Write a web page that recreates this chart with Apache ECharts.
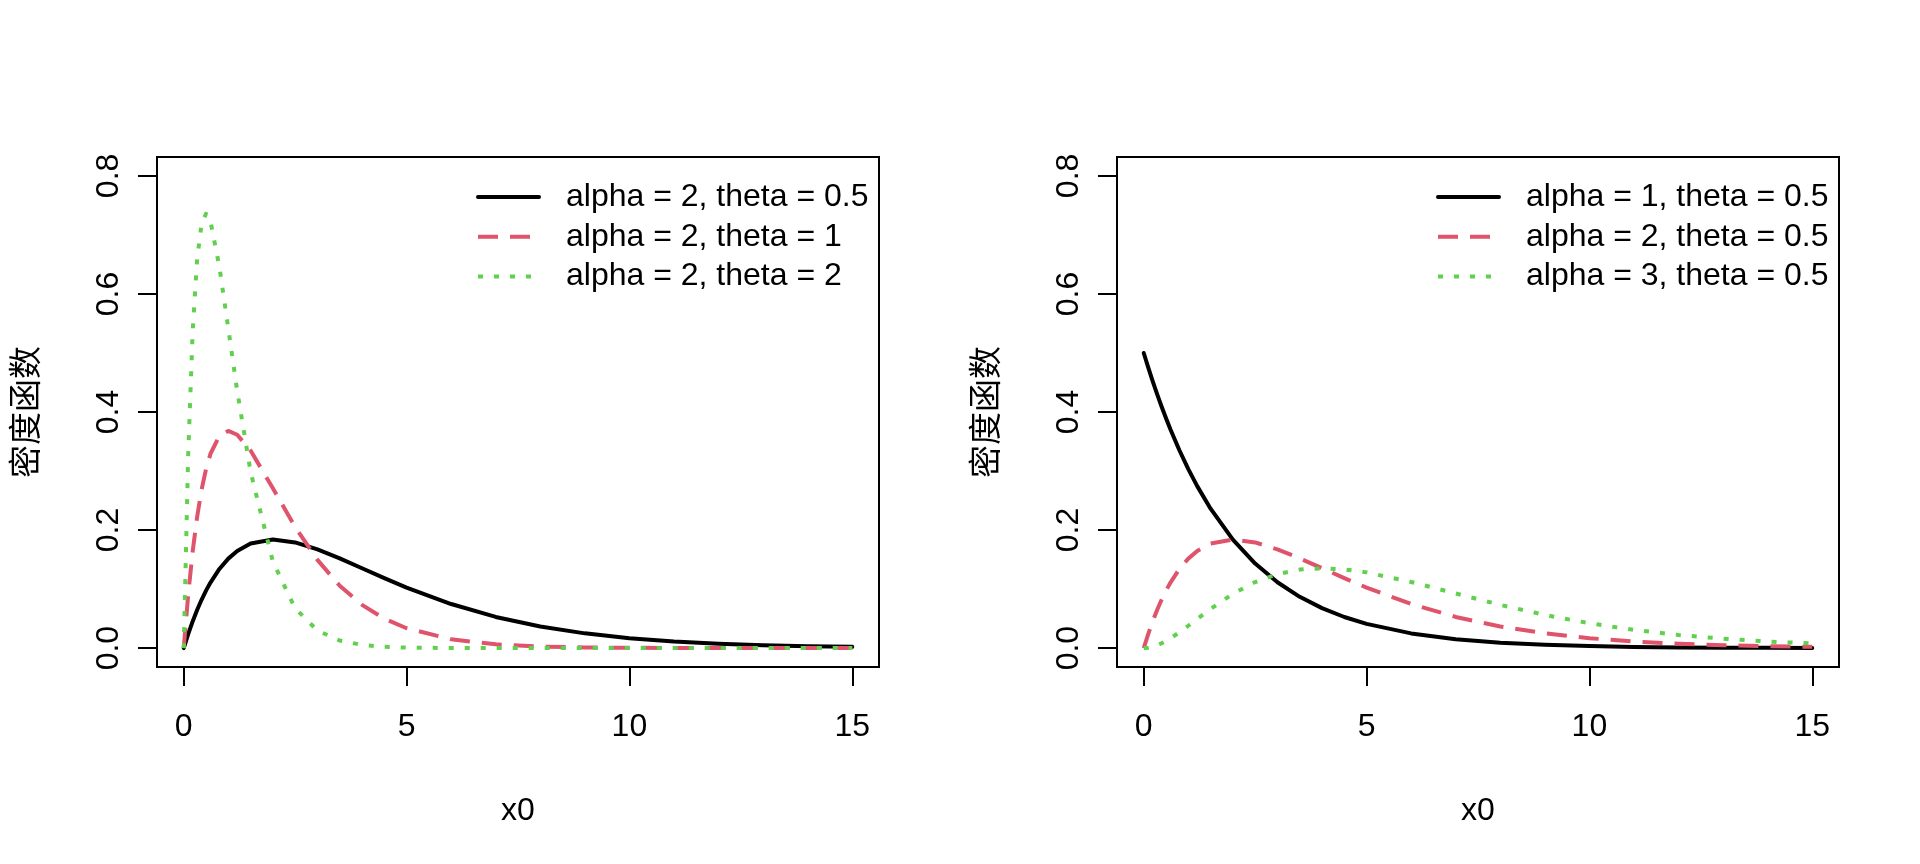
<!DOCTYPE html>
<html>
<head>
<meta charset="utf-8">
<script src="https://cdn.jsdelivr.net/npm/echarts@6/dist/echarts.min.js"></script>
<style>
  html, body { margin: 0; padding: 0; background: #fff; }
  #chart { width: 1920px; height: 864px; }
</style>
</head>
<body>
<div id="chart"></div>
<script>
/* Gamma densities, two panels side by side. */
const xs = [0, 0.1, 0.2, 0.3, 0.4, 0.5, 0.6, 0.8, 1, 1.2, 1.5, 2, 2.5, 3, 3.5, 4, 4.5, 5,
  6, 7, 8, 9, 10, 11, 12, 13, 14, 15];
const xTicks = [0, 5, 10, 15];
const yTicks = [0, 0.2, 0.4, 0.6, 0.8];

// left panel: alpha = 2, theta varies
const leftNames = ["alpha = 2, theta = 0.5", "alpha = 2, theta = 1", "alpha = 2, theta = 2"];
const leftA = [0, 0.0238, 0.0452, 0.0646, 0.0819, 0.0974, 0.1111, 0.1341, 0.1516, 0.1646, 0.1771,
  0.1839, 0.1791, 0.1673, 0.1521, 0.1353, 0.1186, 0.1026, 0.0747, 0.0528, 0.0366, 0.0250, 0.0168,
  0.0112, 0.0074, 0.0049, 0.0032, 0.0021];
const leftB = [0, 0.0905, 0.1637, 0.2222, 0.2681, 0.3033, 0.3293, 0.3595, 0.3679, 0.3614, 0.3347,
  0.2707, 0.2052, 0.1494, 0.1057, 0.0733, 0.0500, 0.0337, 0.0149, 0.0064, 0.0027, 0.0011, 0.0005,
  0.0002, 0.0001, 0, 0, 0];
const leftC = [0, 0.3275, 0.5363, 0.6586, 0.7189, 0.7358, 0.7229, 0.6461, 0.5413, 0.4354, 0.2987,
  0.1465, 0.0674, 0.0297, 0.0128, 0.0054, 0.0022, 0.0009, 0.0001, 0, 0, 0, 0, 0, 0, 0, 0, 0];

// right panel: theta = 0.5, alpha varies
const rightNames = ["alpha = 1, theta = 0.5", "alpha = 2, theta = 0.5 ", "alpha = 3, theta = 0.5"];
const rightA = [0.5, 0.4756, 0.4524, 0.4304, 0.4094, 0.3894, 0.3704, 0.3352, 0.3033, 0.2744, 0.2362,
  0.1839, 0.1433, 0.1116, 0.0869, 0.0677, 0.0527, 0.0410, 0.0249, 0.0151, 0.0092, 0.0056, 0.0034,
  0.0020, 0.0012, 0.0008, 0.0005, 0.0003];
const rightB = [0, 0.0238, 0.0452, 0.0646, 0.0819, 0.0974, 0.1111, 0.1341, 0.1516, 0.1646, 0.1771,
  0.1839, 0.1791, 0.1673, 0.1521, 0.1353, 0.1186, 0.1026, 0.0747, 0.0528, 0.0366, 0.0250, 0.0168,
  0.0112, 0.0074, 0.0049, 0.0032, 0.0021];
const rightC = [0, 0.0006, 0.0023, 0.0048, 0.0082, 0.0122, 0.0167, 0.0268, 0.0379, 0.0494, 0.0664,
  0.0920, 0.1119, 0.1255, 0.1330, 0.1353, 0.1334, 0.1283, 0.1120, 0.0925, 0.0733, 0.0562, 0.0421,
  0.0309, 0.0223, 0.0159, 0.0112, 0.0078];

const FONT = "'Liberation Sans', Arial, sans-serif";
const styles = [
  { color: "#000000", width: 4, type: "solid", cap: "round" },
  { color: "#DF536B", width: 4, type: [20, 12], cap: "butt" },
  { color: "#61D04F", width: 4, type: [5, 11], cap: "butt" }
];

function pairs(vals) { return xs.map(function (x, i) { return [x, vals[i]]; }); }

function grid(left) {
  return { left: left, top: 157, width: 722, height: 510, show: true,
           borderColor: "#000", borderWidth: 2, backgroundColor: "transparent" };
}
function xAxis(idx) {
  return {
    type: "value", gridIndex: idx, min: -0.6, max: 15.6, position: "bottom",
    name: "x0", nameLocation: "middle", nameGap: 128,
    nameTextStyle: { fontFamily: FONT, fontSize: 32, color: "#000" },
    splitLine: { show: false }, axisLine: { show: false, onZero: false },
    axisTick: { show: true, inside: false, customValues: xTicks, length: 19, lineStyle: { color: "#000", width: 2 } },
    axisLabel: { customValues: xTicks, margin: 44, fontFamily: FONT, fontSize: 32, color: "#000" }
  };
}
function yAxis(idx) {
  return {
    type: "value", gridIndex: idx, min: -0.032, max: 0.832, position: "left",
    name: "密度函数", nameLocation: "middle", nameGap: 116,
    nameTextStyle: { fontFamily: "'Noto Sans CJK SC'", fontSize: 33, color: "#000" },
    splitLine: { show: false }, axisLine: { show: false, onZero: false },
    axisTick: { show: true, inside: false, customValues: yTicks, length: 19, lineStyle: { color: "#000", width: 2 } },
    axisLabel: { customValues: yTicks, rotate: 90, margin: 32, fontFamily: FONT, fontSize: 32, color: "#000",
                 formatter: function (v) { return v.toFixed(1); } }
  };
}
function legend(left, names) {
  return {
    orient: "vertical", left: left, top: 177, padding: 0, itemGap: 0,
    itemWidth: 61, itemHeight: 39.8, data: names,
    itemStyle: { color: "transparent", borderWidth: 0 },
    lineStyle: { width: 4 },
    textStyle: { fontFamily: FONT, fontSize: 32, color: "#000", lineHeight: 39.8, padding: [0, 0, 0, 22] },
    selectedMode: false
  };
}
function line(name, vals, st, idx) {
  return {
    name: name, type: "line", xAxisIndex: idx, yAxisIndex: idx,
    data: pairs(vals), symbol: "none", showSymbol: false,
    lineStyle: { color: st.color, width: st.width, type: st.type, cap: st.cap, join: "round" },
    itemStyle: { color: st.color }
  };
}

const chart = echarts.init(document.getElementById("chart"), null, { renderer: "canvas" });
chart.setOption({
  animation: false,
  backgroundColor: "#fff",
  grid: [grid(157), grid(1117)],
  xAxis: [xAxis(0), xAxis(1)],
  yAxis: [yAxis(0), yAxis(1)],
  legend: [legend(476, leftNames), legend(1436, rightNames)],
  series: [
    line(leftNames[0], leftA, styles[0], 0),
    line(leftNames[1], leftB, styles[1], 0),
    line(leftNames[2], leftC, styles[2], 0),
    line(rightNames[0], rightA, styles[0], 1),
    line(rightNames[1], rightB, styles[1], 1),
    line(rightNames[2], rightC, styles[2], 1)
  ]
});
</script>
</body>
</html>
